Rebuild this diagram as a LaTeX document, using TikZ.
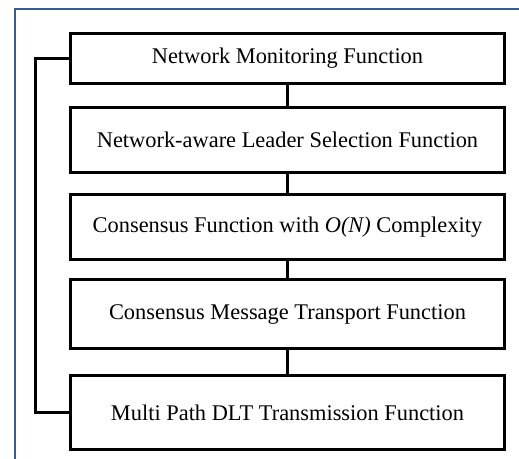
\documentclass[tikz,border=0pt]{standalone}
\usepackage{fontspec}
\setmainfont{Liberation Serif}
\begin{document}
\begin{tikzpicture}[x=0.75pt,y=-0.75pt,
  fbox/.style={draw=black,line width=2.4pt,fill=white,minimum width=326pt,inner sep=0pt,font=\fontsize{16.8}{19}\selectfont,anchor=north},
  link/.style={draw=black,line width=2.2pt}]
\useasboundingbox (0,0) rectangle (519,459);
\fill[white] (0,0) rectangle (519,459);
\draw[draw={rgb,255:red,59;green,89;blue,150},line width=1.8pt] (15,470) -- (15,9) -- (530,9);
\node[fbox,minimum height=37.5pt] (b1) at (287.5,32) {Network Monitoring Function};
\node[fbox,minimum height=48.75pt] (b2) at (287.5,106) {Network-aware Leader Selection Function};
\node[fbox,minimum height=48.75pt] (b3) at (287.5,193) {Consensus Function with \textit{O(N)} Complexity};
\node[fbox,minimum height=51.75pt] (b4) at (287.5,278) {Consensus Message Transport Function};
\node[fbox,minimum height=55.5pt] (b5) at (287.5,374) {Multi Path DLT Transmission Function};
\draw[link] (b1.south) -- (b2.north);
\draw[link] (b2.south) -- (b3.north);
\draw[link] (b3.south) -- (b4.north);
\draw[link] (b4.south) -- (b5.north);
\draw[link] (b1.west) -- ++(-33,0) |- (b5.west);
\end{tikzpicture}
\end{document}
